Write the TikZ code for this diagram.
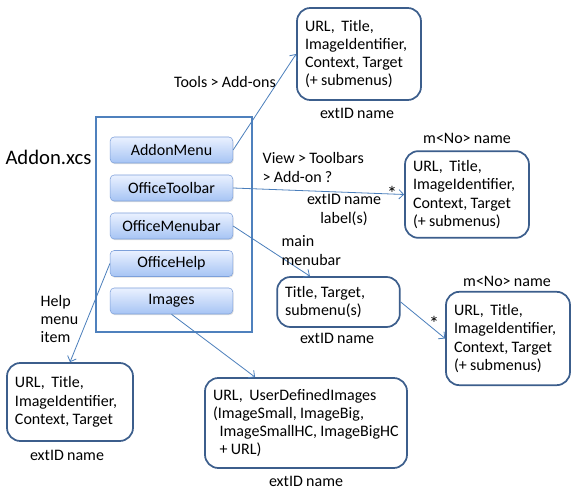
\documentclass[tikz,border=0pt]{standalone}
\usepackage{fontspec}
\setmainfont{Carlito}[WordSpace=0.9]
\usetikzlibrary{calc}
\usetikzlibrary{arrows.meta}
\usetikzlibrary{shadows}
\definecolor{boxline}{RGB}{60,94,140}
\definecolor{frameblue}{RGB}{79,129,189}
\definecolor{linkblue}{RGB}{74,126,187}
\definecolor{btnline}{RGB}{125,160,218}
\definecolor{btntop}{RGB}{234,241,255}
\definecolor{btnbottom}{RGB}{166,196,244}

\begin{document}
\begin{tikzpicture}[x=0.75pt, y=-0.75pt,
        font=\fontsize{12}{13.7}\selectfont\frenchspacing,
        button/.style={draw=btnline, rounded corners=3pt, top color=btntop, bottom color=btnbottom,
            minimum width=92pt, minimum height=19.5pt, inner sep=0pt,
            drop shadow={opacity=0.25, shadow xshift=0.6pt, shadow yshift=-0.9pt}},
        props/.style={draw=boxline, line width=1.3pt, rounded corners=10pt, fill=white,
            align=flush left, inner xsep=6pt, inner ysep=0pt},
        link/.style={draw=linkblue, line width=0.6pt, -{Straight Barb[length=3.5pt, width=7pt]}},
        star/.style={font=\fontsize{15}{15}\selectfont}]
            \useasboundingbox (0, 0) rectangle (579, 498);
            \draw[frameblue, line width=1.5pt] (96, 117) rectangle (252, 332);
            \node[font=\fontsize{15.5}{19}\selectfont] (XCS) at (48.5, 157) {Addon.xcs};
            \node[button] (MENU) at (171.5, 150) {AddonMenu};
            \node[button] (TOOLBAR) at (171.5, 188) {OfficeToolbar};
            \node[button] (MENUBAR) at (171.5, 226) {OfficeMenubar};
            \node[button] (HELP) at (171.5, 263.5) {OfficeHelp};
            \node[button] (IMAGES) at (171.5, 301) {Images};
            \node[props, text width=81pt, minimum height=69pt] (menu props) at (359, 54)
                {URL,\ \ Title,\\ImageIdentifier,\\Context, Target\\(+ submenus)};
            \node[props, text width=81pt, minimum height=65pt] (toolbar props) at (467, 194.5)
                {URL,\ \ Title,\\ImageIdentifier,\\Context, Target\\(+ submenus)};
            \node[props, text width=80pt, minimum height=37.5pt] (menubar props) at (338.5, 302)
                {Title, Target,\\submenu(s)};
            \node[props, text width=81pt, minimum height=70pt] (submenu props) at (508, 338.5)
                {URL,\ \ Title,\\ImageIdentifier,\\Context, Target\\(+ submenus)};
            \node[props, text width=82.5pt, minimum height=58.5pt] (help props) at (70, 402)
                {URL,\ \ Title,\\ImageIdentifier,\\Context, Target};
            \node[props, text width=139.5pt, minimum height=67.5pt] (images props) at (306, 423)
                {URL,\ \ UserDefinedImages\\(ImageSmall, ImageBig,\\\hspace*{5pt}\mbox{ImageSmallHC, ImageBigHC}\\\hspace*{5pt}+ URL)};
            \node (menu id) at (357, 113) {extID name};
            \node (toolbar id) at (467, 138) {m<No> name};
            \node (menubar id) at (337, 338) {extID name};
            \node (submenu id) at (507, 281) {m<No> name};
            \node (help id) at (67, 455) {extID name};
            \node (images id) at (306, 481) {extID name};
            \coordinate (menubar in) at ($(menubar props.north west)!.27!(menubar props.north east)$);
            \coordinate (images in) at ($(images props.north west)!.25!(images props.north east)$);
            \draw[link] (MENU.east) -- (menu props.west);
            \node (tools label) at (225, 82) {Tools > Add-ons};
            \draw[link] (TOOLBAR.east) -- (toolbar props.west);
            \node[anchor=west, align=left] (view label) at (258, 167.5) {View > Toolbars\\> Add-on ?};
            \node[align=center] (toolbar label) at (344, 210) {extID name\\label(s)};
            \node[star] (toolbar star) at (392, 193) {*};
            \draw[link] (MENUBAR.east) -- (menubar in);
            \node[anchor=west, align=left] (menubar label) at (277, 250.5) {main\\menubar};
            \draw[link] (menubar props.east) -- (submenu props.west);
            \node[star] (submenu star) at (434, 323) {*};
            \draw[link] (HELP.west) -- (help props.north);
            \node[anchor=west, align=left] (help label) at (36, 319) {Help\\menu\\item};
            \draw[link] (IMAGES.south) -- (images in);
        \end{tikzpicture}
\end{document}
